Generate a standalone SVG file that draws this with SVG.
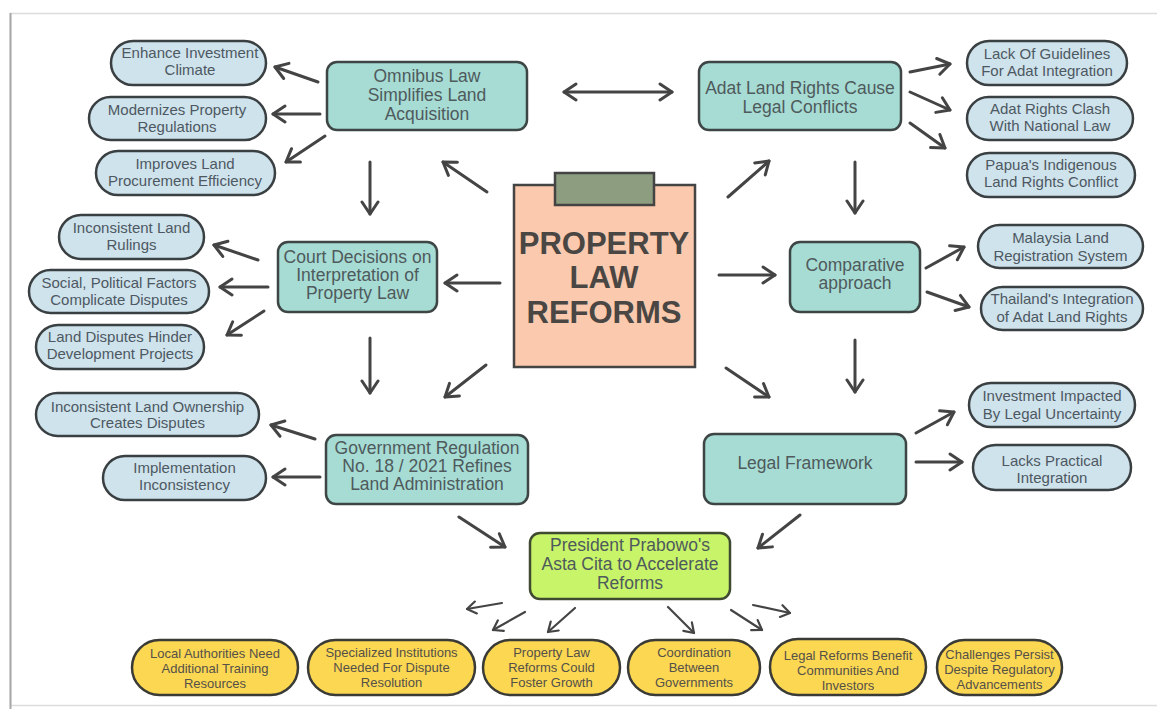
<svg xmlns="http://www.w3.org/2000/svg" width="1157" height="709" viewBox="0 0 1157 709">
<style>
text{font-family:"Liberation Sans",Arial,sans-serif;text-anchor:middle;dominant-baseline:central}
.box{fill:#a6dcd4;stroke:#3d4545;stroke-width:2.5}
.pill{fill:#cfe3ec;stroke:#3a3f42;stroke-width:2.5}
.ypill{fill:#fbd752;stroke:#3a3a36;stroke-width:2.5}
.bt{font-size:17.5px;fill:#4f5a5c}
.pt{font-size:15px;fill:#4d5862}
.yt{font-size:13px;fill:#555048}
.c{stroke:#444;stroke-width:3;fill:none;stroke-linecap:round}
.cs{stroke:#444;stroke-width:2.2;fill:none;stroke-linecap:round}
</style>
<defs>
<marker id="ah" viewBox="-15 -10 17 20" markerWidth="17" markerHeight="20" refX="0" refY="0" orient="auto-start-reverse" markerUnits="userSpaceOnUse">
<path d="M-12,-8 L0,0 L-12,8" fill="none" stroke="#444" stroke-width="3" stroke-linecap="round" stroke-linejoin="round"/>
</marker>
<marker id="ahs" viewBox="-12 -8 14 16" markerWidth="14" markerHeight="16" refX="0" refY="0" orient="auto" markerUnits="userSpaceOnUse">
<path d="M-9,-6 L0,0 L-9,6" fill="none" stroke="#444" stroke-width="2.2" stroke-linecap="round" stroke-linejoin="round"/>
</marker>
</defs>
<rect x="0" y="0" width="1157" height="709" fill="#fff"/>
<rect x="10.5" y="13.5" width="1150" height="692" fill="#fff" stroke="#dcdcdc" stroke-width="1.5"/>
<line x1="10.5" y1="13" x2="10.5" y2="709" stroke="#a8a8a8" stroke-width="2"/>

<g id="connectors">
<path class="c" marker-end="url(#ah)" d="M318,82 L275,67"/>
<path class="c" marker-end="url(#ah)" d="M320,114 L273,114"/>
<path class="c" marker-end="url(#ah)" d="M325,136 L286,162"/>
<path class="c" marker-end="url(#ah)" d="M370,162 L370,214"/>
<path class="c" marker-end="url(#ah)" d="M487,192 L443,162"/>
<path class="c" marker-start="url(#ah)" marker-end="url(#ah)" d="M564,92 L672,92"/>
<path class="c" marker-end="url(#ah)" d="M910,72 L950,64"/>
<path class="c" marker-end="url(#ah)" d="M910,92 L950,110"/>
<path class="c" marker-end="url(#ah)" d="M910,123 L945,148"/>
<path class="c" marker-end="url(#ah)" d="M728,197 L769,161"/>
<path class="c" marker-end="url(#ah)" d="M855,162 L855,213"/>
<path class="c" marker-end="url(#ah)" d="M258,260 L214,245"/>
<path class="c" marker-end="url(#ah)" d="M268,287 L220,287"/>
<path class="c" marker-end="url(#ah)" d="M264,311 L227,335"/>
<path class="c" marker-end="url(#ah)" d="M500,283 L445,283"/>
<path class="c" marker-end="url(#ah)" d="M370,338 L370,393"/>
<path class="c" marker-end="url(#ah)" d="M486,365 L445,397"/>
<path class="c" marker-end="url(#ah)" d="M719,275 L775,275"/>
<path class="c" marker-end="url(#ah)" d="M926,268 L964,247"/>
<path class="c" marker-end="url(#ah)" d="M927,292 L969,307"/>
<path class="c" marker-end="url(#ah)" d="M855,340 L855,392"/>
<path class="c" marker-end="url(#ah)" d="M726,368 L769,397"/>
<path class="c" marker-end="url(#ah)" d="M315,439 L271,425"/>
<path class="c" marker-end="url(#ah)" d="M320,477 L273,477"/>
<path class="c" marker-end="url(#ah)" d="M459,517 L505,547"/>
<path class="c" marker-end="url(#ah)" d="M916,433 L954,412"/>
<path class="c" marker-end="url(#ah)" d="M916,462 L962,462"/>
<path class="c" marker-end="url(#ah)" d="M800,515 L758,548"/>
<path class="cs" marker-end="url(#ahs)" d="M502,603 L467,609"/>
<path class="cs" marker-end="url(#ahs)" d="M525,612 L493,630"/>
<path class="cs" marker-end="url(#ahs)" d="M575,608 L548,632"/>
<path class="cs" marker-end="url(#ahs)" d="M668,607 L694,633"/>
<path class="cs" marker-end="url(#ahs)" d="M731,610 L762,630"/>
<path class="cs" marker-end="url(#ahs)" d="M753,605 L790,613"/>
</g>

<g id="center">
<rect x="514" y="185" width="181" height="182" fill="#fbc9ad" stroke="#444" stroke-width="2.5"/>
<rect x="555" y="173" width="99" height="32" fill="#8d9d80" stroke="#444" stroke-width="2.5"/>
<text x="604" y="243" font-size="31" font-weight="bold" fill="#4a4643">PROPERTY</text>
<text x="604" y="277" font-size="31" font-weight="bold" fill="#4a4643">LAW</text>
<text x="604" y="312" font-size="31" font-weight="bold" fill="#4a4643">REFORMS</text>
</g>

<g id="omnibus">
<rect class="box" x="327" y="62" width="200" height="68" rx="10"/>
<text class="bt" x="427" y="76">Omnibus Law</text>
<text class="bt" x="427" y="95">Simplifies Land</text>
<text class="bt" x="427" y="114">Acquisition</text>
</g>
<g id="enhance">
<rect class="pill" x="111" y="41" width="155" height="44" rx="22"/>
<text class="pt" x="190" y="52">Enhance Investment</text>
<text class="pt" x="190" y="69">Climate</text>
</g>
<g id="modernizes">
<rect class="pill" x="89" y="97" width="177" height="43" rx="21.5"/>
<text class="pt" x="177" y="109">Modernizes Property</text>
<text class="pt" x="177" y="126">Regulations</text>
</g>
<g id="improves">
<rect class="pill" x="96" y="151" width="179" height="44" rx="22"/>
<text class="pt" x="185" y="163">Improves Land</text>
<text class="pt" x="185" y="180">Procurement Efficiency</text>
</g>

<g id="adat">
<rect class="box" x="699" y="62" width="202" height="68" rx="10"/>
<text class="bt" x="800" y="88">Adat Land Rights Cause</text>
<text class="bt" x="800" y="107">Legal Conflicts</text>
</g>
<g id="lack">
<rect class="pill" x="967" y="41" width="160" height="44" rx="22"/>
<text class="pt" x="1047" y="53">Lack Of Guidelines</text>
<text class="pt" x="1047" y="70">For Adat Integration</text>
</g>
<g id="clash">
<rect class="pill" x="967" y="97" width="166" height="43" rx="21.5"/>
<text class="pt" x="1050" y="108">Adat Rights Clash</text>
<text class="pt" x="1050" y="125">With National Law</text>
</g>
<g id="papua">
<rect class="pill" x="967" y="153" width="168" height="44" rx="22"/>
<text class="pt" x="1051" y="164">Papua's Indigenous</text>
<text class="pt" x="1051" y="181">Land Rights Conflict</text>
</g>

<g id="court">
<rect class="box" x="278" y="242" width="159" height="70" rx="10"/>
<text class="bt" x="357.5" y="257">Court Decisions on</text>
<text class="bt" x="357.5" y="275">Interpretation of</text>
<text class="bt" x="357.5" y="293">Property Law</text>
</g>
<g id="rulings">
<rect class="pill" x="59" y="215" width="145" height="44" rx="22"/>
<text class="pt" x="131.5" y="227">Inconsistent Land</text>
<text class="pt" x="131.5" y="244">Rulings</text>
</g>
<g id="social">
<rect class="pill" x="29" y="270" width="180" height="43" rx="21.5"/>
<text class="pt" x="119" y="282">Social, Political Factors</text>
<text class="pt" x="119" y="299">Complicate Disputes</text>
</g>
<g id="hinder">
<rect class="pill" x="36" y="325" width="168" height="44" rx="22"/>
<text class="pt" x="120" y="336">Land Disputes Hinder</text>
<text class="pt" x="120" y="353">Development Projects</text>
</g>

<g id="comparative">
<rect class="box" x="790" y="242" width="130" height="70" rx="10"/>
<text class="bt" x="855" y="265">Comparative</text>
<text class="bt" x="855" y="283">approach</text>
</g>
<g id="malaysia">
<rect class="pill" x="978" y="225" width="165" height="43" rx="21.5"/>
<text class="pt" x="1060.5" y="237">Malaysia Land</text>
<text class="pt" x="1060.5" y="255">Registration System</text>
</g>
<g id="thailand">
<rect class="pill" x="981" y="287" width="162" height="43" rx="21.5"/>
<text class="pt" x="1062" y="298">Thailand's Integration</text>
<text class="pt" x="1062" y="316">of Adat Land Rights</text>
</g>

<g id="government">
<rect class="box" x="326" y="435" width="202" height="69" rx="10"/>
<text class="bt" x="427" y="448">Government Regulation</text>
<text class="bt" x="427" y="466">No. 18 / 2021 Refines</text>
<text class="bt" x="427" y="484">Land Administration</text>
</g>
<g id="ownership">
<rect class="pill" x="36" y="393" width="223" height="43" rx="21.5"/>
<text class="pt" x="147.5" y="406">Inconsistent Land Ownership</text>
<text class="pt" x="147.5" y="422">Creates Disputes</text>
</g>
<g id="implementation">
<rect class="pill" x="103" y="456" width="163" height="44" rx="22"/>
<text class="pt" x="184.5" y="467">Implementation</text>
<text class="pt" x="184.5" y="484">Inconsistency</text>
</g>

<g id="legal">
<rect class="box" x="704" y="434" width="202" height="70" rx="10"/>
<text class="bt" x="805" y="463">Legal Framework</text>
</g>
<g id="investment">
<rect class="pill" x="969" y="383" width="166" height="44" rx="22"/>
<text class="pt" x="1052" y="395">Investment Impacted</text>
<text class="pt" x="1052" y="413">By Legal Uncertainty</text>
</g>
<g id="lacks">
<rect class="pill" x="973" y="445" width="158" height="45" rx="22.5"/>
<text class="pt" x="1052" y="460">Lacks Practical</text>
<text class="pt" x="1052" y="477">Integration</text>
</g>

<g id="president">
<rect x="530" y="533" width="200" height="66" rx="10" fill="#c8f46a" stroke="#3f4a30" stroke-width="2.5"/>
<text class="bt" x="630" y="545" fill="#3f4a3a">President Prabowo's</text>
<text class="bt" x="630" y="564" fill="#3f4a3a">Asta Cita to Accelerate</text>
<text class="bt" x="630" y="583" fill="#3f4a3a">Reforms</text>
</g>

<g id="local">
<rect class="ypill" x="132" y="640" width="166" height="55" rx="27.5"/>
<text class="yt" x="215" y="653">Local Authorities Need</text>
<text class="yt" x="215" y="668">Additional Training</text>
<text class="yt" x="215" y="683">Resources</text>
</g>
<g id="specialized">
<rect class="ypill" x="308" y="640" width="167" height="55" rx="27.5"/>
<text class="yt" x="391.5" y="652">Specialized Institutions</text>
<text class="yt" x="391.5" y="667">Needed For Dispute</text>
<text class="yt" x="391.5" y="682">Resolution</text>
</g>
<g id="growth">
<rect class="ypill" x="483" y="640" width="137" height="55" rx="27.5"/>
<text class="yt" x="551.5" y="652">Property Law</text>
<text class="yt" x="551.5" y="667">Reforms Could</text>
<text class="yt" x="551.5" y="682">Foster Growth</text>
</g>
<g id="coordination">
<rect class="ypill" x="628" y="640" width="132" height="55" rx="27.5"/>
<text class="yt" x="694" y="652">Coordination</text>
<text class="yt" x="694" y="667">Between</text>
<text class="yt" x="694" y="682">Governments</text>
</g>
<g id="benefit">
<rect class="ypill" x="770" y="639" width="156" height="56" rx="28"/>
<text class="yt" x="848" y="655">Legal Reforms Benefit</text>
<text class="yt" x="848" y="670">Communities And</text>
<text class="yt" x="848" y="685">Investors</text>
</g>
<g id="challenges">
<rect class="ypill" x="937" y="640" width="125" height="55" rx="27.5"/>
<text class="yt" x="999.5" y="654">Challenges Persist</text>
<text class="yt" x="999.5" y="669">Despite Regulatory</text>
<text class="yt" x="999.5" y="684">Advancements</text>
</g>
</svg>
